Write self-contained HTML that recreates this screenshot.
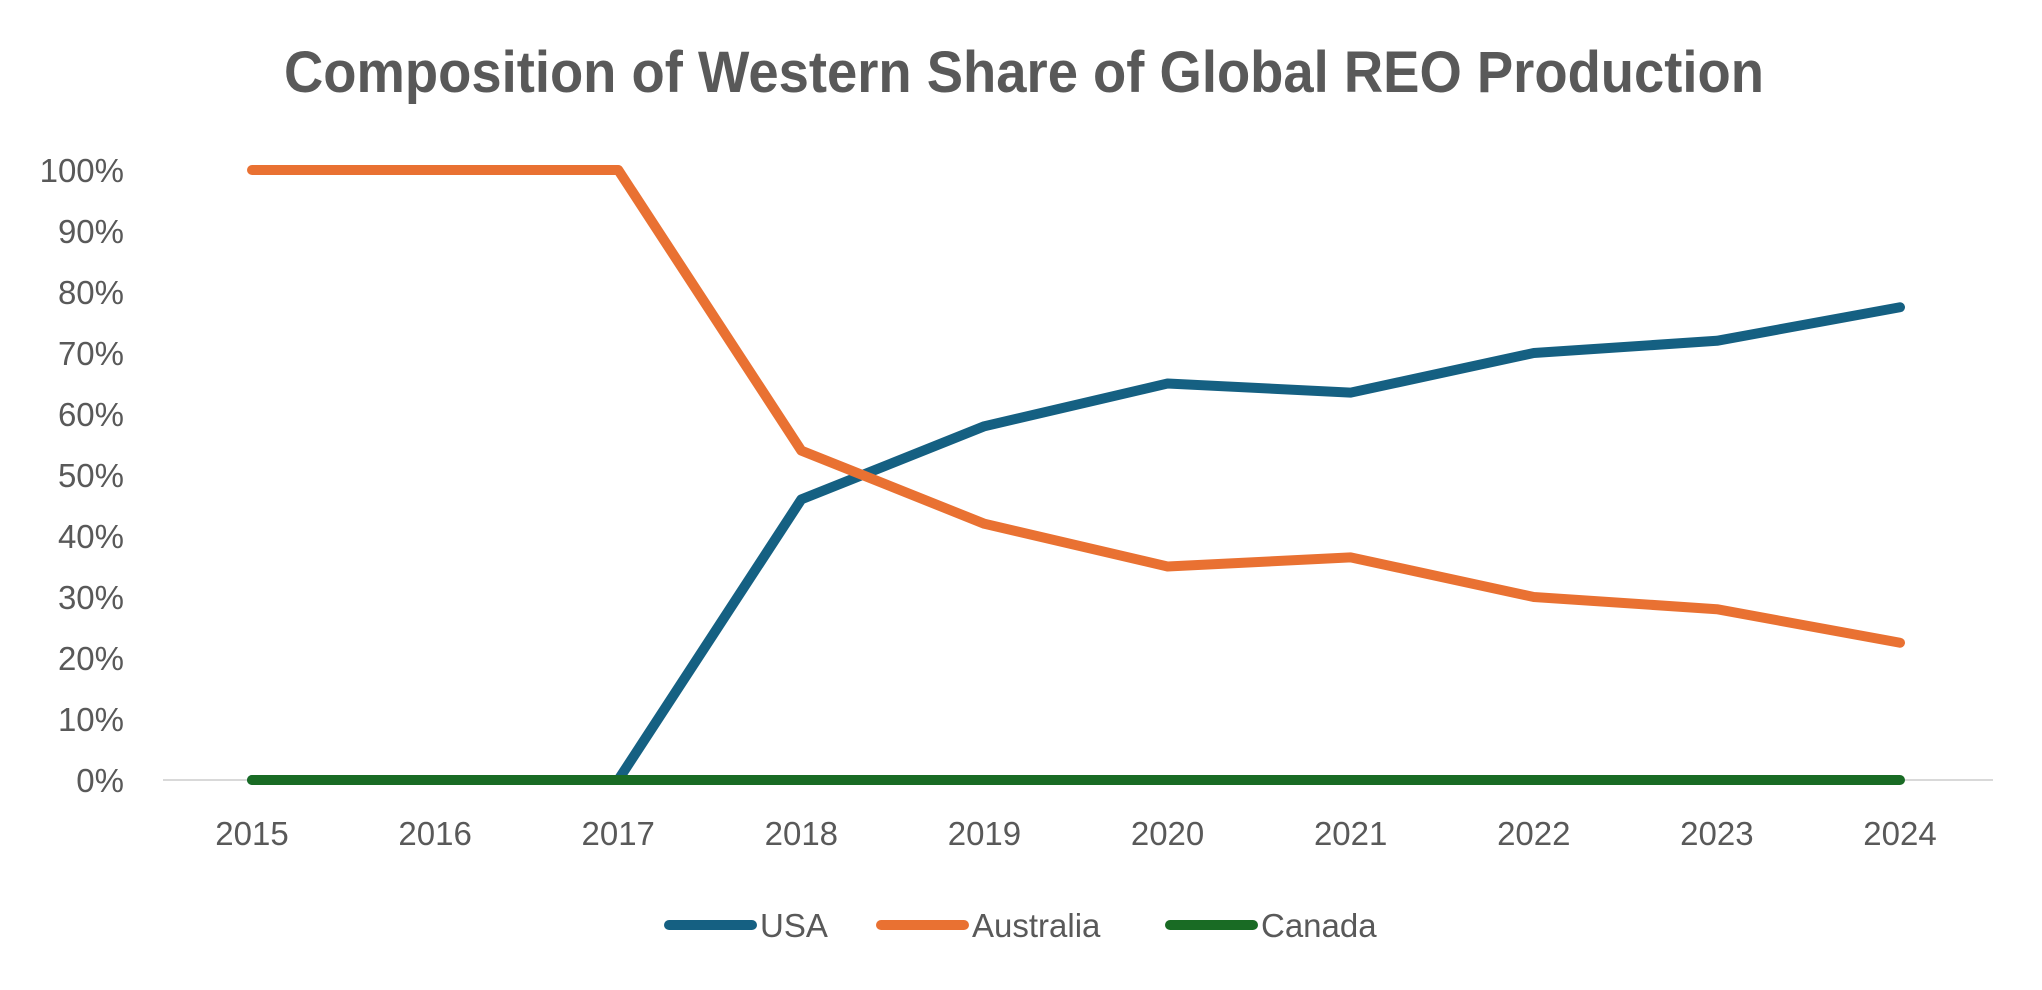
<!DOCTYPE html>
<html><head><meta charset="utf-8"><style>
html,body{margin:0;padding:0;background:#fff;}
svg{display:block;font-family:"Liberation Sans",sans-serif;}
</style></head><body>
<svg id="chart" width="2042" height="990" viewBox="0 0 2042 990">
<text x="1024" y="92" text-anchor="middle" font-size="58" font-weight="bold" fill="#595959" textLength="1480" lengthAdjust="spacingAndGlyphs">Composition of Western Share of Global REO Production</text>
<g id="axes"></g>
<g id="series"></g>
<g id="legend"></g>
</svg>
<script>
const years = ["2015","2016","2017","2018","2019","2020","2021","2022","2023","2024"];
const usa = [0,0,0,46,58,65,63.5,70,72,77.5];
const australia = [100,100,100,54,42,35,36.5,30,28,22.5];
const canada = [0,0,0,0,0,0,0,0,0,0];
const yTicks = [0,10,20,30,40,50,60,70,80,90,100];
const seriesNames = ["USA","Australia","Canada"];

const NS="http://www.w3.org/2000/svg";
const x0=252,x1=1900,y0=780,y1=170;
const xs=i=>x0+(x1-x0)*i/(years.length-1);
const ys=v=>y0-(y0-y1)*v/100;
function mk(tag,attrs,parent){const e=document.createElementNS(NS,tag);for(const k in attrs)e.setAttribute(k,attrs[k]);parent.appendChild(e);return e;}
const axes=document.getElementById('axes'),ser=document.getElementById('series'),leg=document.getElementById('legend');

const base=mk('line',{x1:163,x2:1993,y1:y0,y2:y0,stroke:'#d9d9d9','stroke-width':2},axes);


yTicks.forEach(v=>{
  const t=mk('text',{x:124,y:ys(v)+12,'text-anchor':'end','font-size':33,fill:'#595959'},axes);
  t.textContent=v+'%';
  
  
});
years.forEach((y,i)=>{
  const t=mk('text',{x:xs(i),y:845,'text-anchor':'middle','font-size':33,fill:'#595959'},axes);
  t.textContent=y;
  
  
});
const colors=['#156082','#E97132','#196B24'];
[usa,australia,canada].forEach((d,si)=>{
  const p=mk('polyline',{points:d.map((v,i)=>xs(i)+','+ys(v)).join(' '),fill:'none',stroke:colors[si],'stroke-width':10,'stroke-linejoin':'round','stroke-linecap':'round'},ser);
  
  
});
const lx=[664,876,1165];
seriesNames.forEach((n,i)=>{
  const g=mk('g',{},leg);
  
  
  mk('line',{x1:lx[i]+5,x2:lx[i]+88,y1:925,y2:925,stroke:colors[i],'stroke-width':10,'stroke-linecap':'round'},g);
  const t=mk('text',{x:lx[i]+96,y:937,'font-size':33,fill:'#595959'},g);
  t.textContent=n;
});
</script>
</body></html>
